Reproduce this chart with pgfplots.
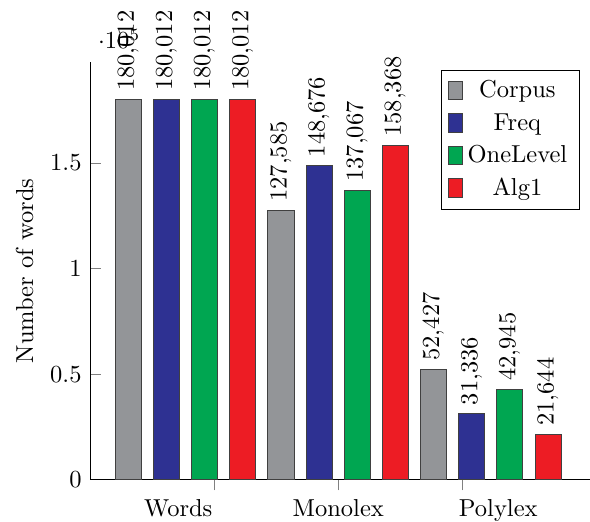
\documentclass[border=0pt]{standalone}
\usepackage{pgfplots}
\pgfplotsset{compat=1.18}
\definecolor{cgray}{RGB}{147,149,152}
\definecolor{cblue}{RGB}{46,49,146}
\definecolor{cgreen}{RGB}{0,166,81}
\definecolor{cred}{RGB}{237,28,36}
\begin{document}
\begin{tikzpicture}
\begin{axis}[
  scale only axis,
  width=204pt, height=170.6pt,
  axis x line*=bottom, axis y line*=left,
  axis line style={-},
  xtick pos=lower, ytick pos=both,
  xmin=0, xmax=4.03, ymin=0, ymax=197800,
  ybar, bar width=0.21, bar shift=0pt,
  xtick={1,2,3}, xticklabels={},
  extra x ticks={0.71,2,3.29},
  extra x tick labels={Words,Monolex,Polylex},
  extra x tick style={major tick length=0pt, xticklabel style={yshift=-4.5pt}},
  ytick={0,50000,100000,150000},
  tick style={gray, thin},
  ylabel={Number of words},
  every axis plot/.append style={draw=black!75, line width=0.4pt},
  nodes near coords={\pgfmathprintnumber[fixed,precision=0]{\pgfplotspointmeta}},
  every node near coord/.append style={rotate=90, anchor=west, black},
  legend cell align=center,
  legend style={at={(0.98,0.98)}, anchor=north east, draw=black, row sep=0.8pt},
  legend image code/.code={\draw[#1] (0pt,-3.6pt) rectangle (5.4pt,4pt);},
]
\addplot[fill=cgray] coordinates {(0.3077,180012) (1.5385,127585) (2.7692,52427)};
\addplot[fill=cblue] coordinates {(0.6154,180012) (1.8462,148676) (3.0769,31336)};
\addplot[fill=cgreen] coordinates {(0.9231,180012) (2.1538,137067) (3.3846,42945)};
\addplot[fill=cred] coordinates {(1.2308,180012) (2.4615,158368) (3.6923,21644)};
\legend{Corpus,Freq,OneLevel,Alg1}
\end{axis}
\pgfresetboundingbox
\path ([xshift=-36.8pt,yshift=-16.8pt]current axis.south west)
  rectangle ([yshift=25.3pt]current axis.north east);
\end{tikzpicture}
\end{document}
